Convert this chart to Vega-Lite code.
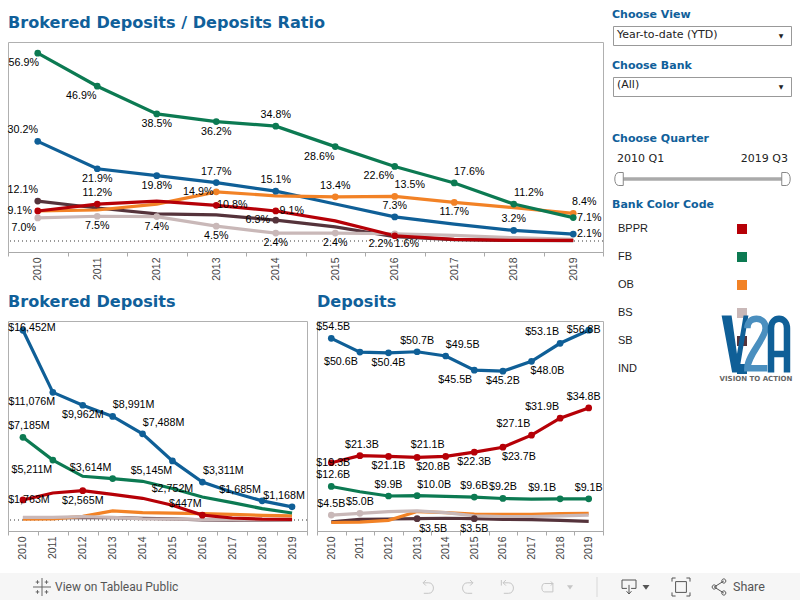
{
"$schema":"https://vega.github.io/schema/vega-lite/v6.json",
"padding":0,"background":"white","autosize":{"type":"pad"},"spacing":0,
"config":{"view":{"stroke":null},
"title":{"font":"DejaVu Sans","fontWeight":"bold","color":"#10609a","anchor":"start","frame":"group","fontSize":16.1,"offset":11},
"style":{"lab":{"font":"Liberation Sans","fontSize":10.7,"fill":"#333","baseline":"middle","align":"center"}},
"axis":{"title":null}},
"datasets":{
"ratio":[
{"bank":"IND","year":"2010","value":30.2,"label":"30.2%"},{"bank":"IND","year":"2011","value":21.9,"label":"21.9%"},{"bank":"IND","year":"2012","value":19.8,"label":"19.8%"},{"bank":"IND","year":"2013","value":17.7,"label":"17.7%"},{"bank":"IND","year":"2014","value":15.1,"label":"15.1%"},{"bank":"IND","year":"2015","value":11.2},{"bank":"IND","year":"2016","value":7.3,"label":"7.3%"},{"bank":"IND","year":"2017","value":5.1},{"bank":"IND","year":"2018","value":3.2,"label":"3.2%"},{"bank":"IND","year":"2019","value":2.1,"label":"2.1%"},
{"bank":"SB","year":"2010","value":12.1,"label":"12.1%"},{"bank":"SB","year":"2011","value":10.0},{"bank":"SB","year":"2012","value":8.2},{"bank":"SB","year":"2013","value":7.9},{"bank":"SB","year":"2014","value":6.3,"label":"6.3%"},{"bank":"SB","year":"2015","value":4.3},{"bank":"SB","year":"2016","value":1.3},{"bank":"SB","year":"2017","value":0.4},{"bank":"SB","year":"2018","value":0.2},{"bank":"SB","year":"2019","value":0.1},
{"bank":"OB","year":"2010","value":9.1},{"bank":"OB","year":"2011","value":9.4},{"bank":"OB","year":"2012","value":11.2},{"bank":"OB","year":"2013","value":14.9,"label":"14.9%"},{"bank":"OB","year":"2014","value":13.7},{"bank":"OB","year":"2015","value":13.4,"label":"13.4%"},{"bank":"OB","year":"2016","value":13.5,"label":"13.5%"},{"bank":"OB","year":"2017","value":11.7,"label":"11.7%"},{"bank":"OB","year":"2018","value":10.1},{"bank":"OB","year":"2019","value":8.4,"label":"8.4%"},
{"bank":"BS","year":"2010","value":7.0,"label":"7.0%"},{"bank":"BS","year":"2011","value":7.5,"label":"7.5%"},{"bank":"BS","year":"2012","value":7.4,"label":"7.4%"},{"bank":"BS","year":"2013","value":4.5,"label":"4.5%"},{"bank":"BS","year":"2014","value":2.4,"label":"2.4%"},{"bank":"BS","year":"2015","value":2.4,"label":"2.4%"},{"bank":"BS","year":"2016","value":2.2,"label":"2.2%"},{"bank":"BS","year":"2017","value":1.7},{"bank":"BS","year":"2018","value":1.0},{"bank":"BS","year":"2019","value":0.5},
{"bank":"FB","year":"2010","value":56.9,"label":"56.9%"},{"bank":"FB","year":"2011","value":46.9,"label":"46.9%"},{"bank":"FB","year":"2012","value":38.5,"label":"38.5%"},{"bank":"FB","year":"2013","value":36.2,"label":"36.2%"},{"bank":"FB","year":"2014","value":34.8,"label":"34.8%"},{"bank":"FB","year":"2015","value":28.6,"label":"28.6%"},{"bank":"FB","year":"2016","value":22.6,"label":"22.6%"},{"bank":"FB","year":"2017","value":17.6,"label":"17.6%"},{"bank":"FB","year":"2018","value":11.2,"label":"11.2%"},{"bank":"FB","year":"2019","value":7.1,"label":"7.1%"},
{"bank":"BPPR","year":"2010","value":9.1,"label":"9.1%"},{"bank":"BPPR","year":"2011","value":11.2,"label":"11.2%"},{"bank":"BPPR","year":"2012","value":12.1},{"bank":"BPPR","year":"2013","value":10.8,"label":"10.8%"},{"bank":"BPPR","year":"2014","value":9.1,"label":"9.1%"},{"bank":"BPPR","year":"2015","value":6.1},{"bank":"BPPR","year":"2016","value":1.6,"label":"1.6%"},{"bank":"BPPR","year":"2017","value":0.5},{"bank":"BPPR","year":"2018","value":0.2},{"bank":"BPPR","year":"2019","value":0.2}
],
"brokered":[
{"bank":"IND","year":"2010","value":16452,"label":"$16,452M"},{"bank":"IND","year":"2011","value":11076,"label":"$11,076M"},{"bank":"IND","year":"2012","value":9962,"label":"$9,962M"},{"bank":"IND","year":"2013","value":8991,"label":"$8,991M"},{"bank":"IND","year":"2014","value":7488,"label":"$7,488M"},{"bank":"IND","year":"2015","value":5145,"label":"$5,145M"},{"bank":"IND","year":"2016","value":3311,"label":"$3,311M"},{"bank":"IND","year":"2017","value":2424},{"bank":"IND","year":"2018","value":1685,"label":"$1,685M"},{"bank":"IND","year":"2019","value":1168,"label":"$1,168M"},
{"bank":"SB","year":"2010","value":240},{"bank":"SB","year":"2011","value":230},{"bank":"SB","year":"2012","value":240},{"bank":"SB","year":"2013","value":230},{"bank":"SB","year":"2014","value":180},{"bank":"SB","year":"2015","value":130},{"bank":"SB","year":"2016","value":30},{"bank":"SB","year":"2017","value":20},{"bank":"SB","year":"2018","value":10},{"bank":"SB","year":"2019","value":10},
{"bank":"OB","year":"2010","value":110},{"bank":"OB","year":"2011","value":130},{"bank":"OB","year":"2012","value":345},{"bank":"OB","year":"2013","value":810},{"bank":"OB","year":"2014","value":660},{"bank":"OB","year":"2015","value":620},{"bank":"OB","year":"2016","value":580},{"bank":"OB","year":"2017","value":520},{"bank":"OB","year":"2018","value":430},{"bank":"OB","year":"2019","value":380},
{"bank":"BS","year":"2010","value":260},{"bank":"BS","year":"2011","value":260},{"bank":"BS","year":"2012","value":320},{"bank":"BS","year":"2013","value":250},{"bank":"BS","year":"2014","value":120},{"bank":"BS","year":"2015","value":110},{"bank":"BS","year":"2016","value":70},{"bank":"BS","year":"2017","value":50},{"bank":"BS","year":"2018","value":30},{"bank":"BS","year":"2019","value":20},
{"bank":"FB","year":"2010","value":7185,"label":"$7,185M"},{"bank":"FB","year":"2011","value":5211,"label":"$5,211M"},{"bank":"FB","year":"2012","value":3810},{"bank":"FB","year":"2013","value":3614,"label":"$3,614M"},{"bank":"FB","year":"2014","value":3377},{"bank":"FB","year":"2015","value":2752,"label":"$2,752M"},{"bank":"FB","year":"2016","value":2017},{"bank":"FB","year":"2017","value":1530},{"bank":"FB","year":"2018","value":1010},{"bank":"FB","year":"2019","value":630},
{"bank":"BPPR","year":"2010","value":1763,"label":"$1,763M"},{"bank":"BPPR","year":"2011","value":2364},{"bank":"BPPR","year":"2012","value":2565,"label":"$2,565M"},{"bank":"BPPR","year":"2013","value":2250},{"bank":"BPPR","year":"2014","value":1905},{"bank":"BPPR","year":"2015","value":1300},{"bank":"BPPR","year":"2016","value":447,"label":"$447M"},{"bank":"BPPR","year":"2017","value":200},{"bank":"BPPR","year":"2018","value":100},{"bank":"BPPR","year":"2019","value":80}
],
"deposits":[
{"bank":"IND","year":"2010","value":54.5,"label":"$54.5B"},{"bank":"IND","year":"2011","value":50.6,"label":"$50.6B"},{"bank":"IND","year":"2012","value":50.4,"label":"$50.4B"},{"bank":"IND","year":"2013","value":50.7,"label":"$50.7B"},{"bank":"IND","year":"2014","value":49.5,"label":"$49.5B"},{"bank":"IND","year":"2015","value":45.5,"label":"$45.5B"},{"bank":"IND","year":"2016","value":45.2,"label":"$45.2B"},{"bank":"IND","year":"2017","value":48.0,"label":"$48.0B"},{"bank":"IND","year":"2018","value":53.1,"label":"$53.1B"},{"bank":"IND","year":"2019","value":56.8,"label":"$56.8B"},
{"bank":"SB","year":"2010","value":2.6},{"bank":"SB","year":"2011","value":3.3},{"bank":"SB","year":"2012","value":3.4},{"bank":"SB","year":"2013","value":3.5,"label":"$3.5B"},{"bank":"SB","year":"2014","value":3.6},{"bank":"SB","year":"2015","value":3.5,"label":"$3.5B"},{"bank":"SB","year":"2016","value":3.3},{"bank":"SB","year":"2017","value":3.2},{"bank":"SB","year":"2018","value":3.0},{"bank":"SB","year":"2019","value":2.7},
{"bank":"OB","year":"2010","value":2.4},{"bank":"OB","year":"2011","value":2.5},{"bank":"OB","year":"2012","value":3.0},{"bank":"OB","year":"2013","value":5.5},{"bank":"OB","year":"2014","value":5.2},{"bank":"OB","year":"2015","value":4.8},{"bank":"OB","year":"2016","value":4.7},{"bank":"OB","year":"2017","value":4.7},{"bank":"OB","year":"2018","value":4.9},{"bank":"OB","year":"2019","value":5.0},
{"bank":"BS","year":"2010","value":4.5,"label":"$4.5B"},{"bank":"BS","year":"2011","value":5.0,"label":"$5.0B"},{"bank":"BS","year":"2012","value":5.5},{"bank":"BS","year":"2013","value":5.7},{"bank":"BS","year":"2014","value":5.2},{"bank":"BS","year":"2015","value":4.3},{"bank":"BS","year":"2016","value":4.1},{"bank":"BS","year":"2017","value":4.1},{"bank":"BS","year":"2018","value":4.3},{"bank":"BS","year":"2019","value":4.5},
{"bank":"FB","year":"2010","value":12.6,"label":"$12.6B"},{"bank":"FB","year":"2011","value":11.1},{"bank":"FB","year":"2012","value":9.9,"label":"$9.9B"},{"bank":"FB","year":"2013","value":10.0,"label":"$10.0B"},{"bank":"FB","year":"2014","value":9.8},{"bank":"FB","year":"2015","value":9.6,"label":"$9.6B"},{"bank":"FB","year":"2016","value":9.2,"label":"$9.2B"},{"bank":"FB","year":"2017","value":9.0},{"bank":"FB","year":"2018","value":9.1,"label":"$9.1B"},{"bank":"FB","year":"2019","value":9.1,"label":"$9.1B"},
{"bank":"BPPR","year":"2010","value":19.3,"label":"$19.3B"},{"bank":"BPPR","year":"2011","value":21.3,"label":"$21.3B"},{"bank":"BPPR","year":"2012","value":21.1,"label":"$21.1B"},{"bank":"BPPR","year":"2013","value":20.8,"label":"$20.8B"},{"bank":"BPPR","year":"2014","value":21.1,"label":"$21.1B"},{"bank":"BPPR","year":"2015","value":22.3,"label":"$22.3B"},{"bank":"BPPR","year":"2016","value":23.7,"label":"$23.7B"},{"bank":"BPPR","year":"2017","value":27.1,"label":"$27.1B"},{"bank":"BPPR","year":"2018","value":31.9,"label":"$31.9B"},{"bank":"BPPR","year":"2019","value":34.8,"label":"$34.8B"}
]},
"vconcat":[
{"hconcat":[
 {"width":2,"height":1,"data":{"values":[]},"mark":"rect"},
 {"vconcat":[
  {"width":595,"height":14,"data":{"values":[]},"mark":"rect"},
  {"width":595,"height":210,"view":{"stroke":"#b0b0b0"},
   "title":"Brokered Deposits / Deposits Ratio",
   "data":{"name":"ratio"},
   "encoding":{"x":{"field":"year","type":"nominal","scale":{"type":"band","paddingInner":0,"paddingOuter":0},
      "axis":{"labelAngle":270,"labelAlign":"right","labelBaseline":"middle","tickBand":"extent","labelFont":"Liberation Sans","labelFontSize":10.5,"labelColor":"#444","tickColor":"#aaa","domainColor":"#aaa","tickSize":4,"labelPadding":1}},
     "y":{"field":"value","type":"quantitative","axis":null,"scale":{"domain":[-3.33,60.3],"nice":false,"zero":false}}},
   "layer":[
    {"mark":{"type":"rule","stroke":"#999","strokeWidth":1,"strokeDash":[1,3]},"encoding":{"x":null,"y":{"datum":0}}},
    {"mark":{"type":"line","strokeWidth":3.2,"interpolate":"linear"},"encoding":{"color":{"field":"bank","type":"nominal","legend":null,"scale":{"domain":["BPPR","FB","OB","BS","SB","IND"],"range":["#b60007","#0c7a52","#f28226","#c9b8b8","#55333b","#0f5f97"]}}}},
    {"transform":[{"filter":"isValid(datum.label)"}],"mark":{"type":"circle","size":45,"opacity":1},"encoding":{"color":{"field":"bank","type":"nominal","legend":null}}},
    {"transform":[{"filter":"indexof(['IND2013','IND2014','IND2016','IND2018','FB2014','BPPR2011','OB2015'],datum.bank+datum.year)>=0"}],"mark":{"type":"text","style":"lab","dy":-11},"encoding":{"text":{"field":"label"}}},
    {"transform":[{"filter":"indexof(['FB2012','FB2013','IND2011','IND2012','OB2017','BS2011','BS2012','BS2013','BS2014','BS2015'],datum.bank+datum.year)>=0"}],"mark":{"type":"text","style":"lab","dy":10},"encoding":{"text":{"field":"label"}}},
    {"transform":[{"filter":"indexof(['FB2011','FB2015','FB2016'],datum.bank+datum.year)>=0"}],"mark":{"type":"text","style":"lab","dx":-16,"dy":10},"encoding":{"text":{"field":"label"}}},
    {"transform":[{"filter":"indexof(['FB2017','FB2018','OB2016'],datum.bank+datum.year)>=0"}],"mark":{"type":"text","style":"lab","dx":15,"dy":-11},"encoding":{"text":{"field":"label"}}},
    {"transform":[{"filter":"indexof(['IND2010','SB2010'],datum.bank+datum.year)>=0"}],"mark":{"type":"text","style":"lab","dx":-15,"dy":-11},"encoding":{"text":{"field":"label"}}},
    {"transform":[{"filter":"indexof(['FB2010','BS2010','BS2016'],datum.bank+datum.year)>=0"}],"mark":{"type":"text","style":"lab","dx":-14,"dy":10},"encoding":{"text":{"field":"label"}}},
    {"transform":[{"filter":"indexof(['BPPR2010','OB2013','SB2014'],datum.bank+datum.year)>=0"}],"mark":{"type":"text","style":"lab","dx":-18},"encoding":{"text":{"field":"label"}}},
    {"transform":[{"filter":"indexof(['BPPR2013','BPPR2014','FB2019','IND2019'],datum.bank+datum.year)>=0"}],"mark":{"type":"text","style":"lab","dx":16},"encoding":{"text":{"field":"label"}}},
    {"transform":[{"filter":"datum.bank+datum.year==='OB2019'"}],"mark":{"type":"text","style":"lab","dx":11,"dy":-11},"encoding":{"text":{"field":"label"}}},
    {"transform":[{"filter":"datum.bank+datum.year==='BPPR2016'"}],"mark":{"type":"text","style":"lab","dx":12,"dy":8},"encoding":{"text":{"field":"label"}}}
   ]},
  {"width":595,"height":12,"data":{"values":[]},"mark":"rect"},
  {"hconcat":[
   {"width":299,"height":210,"view":{"stroke":"#b0b0b0"},"title":"Brokered Deposits","data":{"name":"brokered"},
    "encoding":{"x":{"field":"year","type":"nominal","scale":{"type":"band","paddingInner":0,"paddingOuter":0},
      "axis":{"labelAngle":270,"labelAlign":"right","labelBaseline":"middle","tickBand":"extent","labelFont":"Liberation Sans","labelFontSize":10.5,"labelColor":"#444","tickColor":"#aaa","domainColor":"#aaa","tickSize":4,"labelPadding":1}},
     "y":{"field":"value","type":"quantitative","axis":null,"scale":{"domain":[-926,17255],"nice":false,"zero":false}}},
    "layer":[
     {"mark":{"type":"rule","stroke":"#999","strokeWidth":1,"strokeDash":[1,3]},"encoding":{"x":null,"y":{"datum":0}}},
     {"mark":{"type":"line","strokeWidth":3.2},"encoding":{"color":{"field":"bank","type":"nominal","legend":null,"scale":{"domain":["BPPR","FB","OB","BS","SB","IND"],"range":["#b60007","#0c7a52","#f28226","#c9b8b8","#55333b","#0f5f97"]}}}},
     {"transform":[{"filter":"isValid(datum.label) && datum.label!=='$2,752M'"}],"mark":{"type":"circle","size":45,"opacity":1},"encoding":{"color":{"field":"bank","type":"nominal","legend":null}}},
     {"transform":[{"filter":"indexof(['$8,991M','$7,488M','$3,311M'],datum.label)>=0"}],"mark":{"type":"text","style":"lab","dx":21,"dy":-11},"encoding":{"text":{"field":"label"}}},
     {"transform":[{"filter":"indexof(['$11,076M','$5,211M','$5,145M'],datum.label)>=0"}],"mark":{"type":"text","style":"lab","dx":-21,"dy":10},"encoding":{"text":{"field":"label"}}},
     {"transform":[{"filter":"indexof(['$3,614M','$1,685M'],datum.label)>=0"}],"mark":{"type":"text","style":"lab","dx":-22,"dy":-11},"encoding":{"text":{"field":"label"}}},
     {"transform":[{"filter":"indexof(['$9,962M','$2,565M'],datum.label)>=0"}],"mark":{"type":"text","style":"lab","dy":10},"encoding":{"text":{"field":"label"}}},
     {"transform":[{"filter":"datum.label==='$447M'"}],"mark":{"type":"text","style":"lab","dx":-17,"dy":-11},"encoding":{"text":{"field":"label"}}},
     {"transform":[{"filter":"datum.label==='$16,452M'"}],"mark":{"type":"text","style":"lab","dx":9,"dy":-2},"encoding":{"text":{"field":"label"}}},
     {"transform":[{"filter":"datum.label==='$7,185M'"}],"mark":{"type":"text","style":"lab","dx":6,"dy":-11},"encoding":{"text":{"field":"label"}}},
     {"transform":[{"filter":"datum.label==='$1,763M'"}],"mark":{"type":"text","style":"lab","dx":6},"encoding":{"text":{"field":"label"}}},
     {"transform":[{"filter":"datum.label==='$2,752M'"}],"mark":{"type":"text","style":"lab"},"encoding":{"text":{"field":"label"}}},
     {"transform":[{"filter":"datum.label==='$1,168M'"}],"mark":{"type":"text","style":"lab","dx":-8,"dy":-11},"encoding":{"text":{"field":"label"}}}
    ]},
   {"width":10,"height":1,"data":{"values":[]},"mark":"rect"},
   {"width":286,"height":210,"view":{"stroke":"#b0b0b0"},"title":"Deposits","data":{"name":"deposits"},
    "encoding":{"x":{"field":"year","type":"nominal","scale":{"type":"band","paddingInner":0,"paddingOuter":0},
      "axis":{"labelAngle":270,"labelAlign":"right","labelBaseline":"middle","tickBand":"extent","labelFont":"Liberation Sans","labelFontSize":10.5,"labelColor":"#444","tickColor":"#aaa","domainColor":"#aaa","tickSize":4,"labelPadding":1}},
     "y":{"field":"value","type":"quantitative","axis":null,"scale":{"domain":[0,59.4],"nice":false,"zero":false}}},
    "layer":[
     {"mark":{"type":"line","strokeWidth":3.2},"encoding":{"color":{"field":"bank","type":"nominal","legend":null,"scale":{"domain":["BPPR","FB","OB","BS","SB","IND"],"range":["#b60007","#0c7a52","#f28226","#c9b8b8","#55333b","#0f5f97"]}}}},
     {"transform":[{"filter":"isValid(datum.label)"}],"mark":{"type":"circle","size":45,"opacity":1},"encoding":{"color":{"field":"bank","type":"nominal","legend":null}}},
     {"transform":[{"filter":"indexof(['FB2012','FB2015','FB2016','FB2019','IND2013','BS2011','BS2010'],datum.bank+datum.year)>=0"}],"mark":{"type":"text","style":"lab","dy":-11},"encoding":{"text":{"field":"label"}}},
     {"transform":[{"filter":"indexof(['IND2012','IND2016','BPPR2012','BPPR2015','SB2015'],datum.bank+datum.year)>=0"}],"mark":{"type":"text","style":"lab","dy":10},"encoding":{"text":{"field":"label"}}},
     {"transform":[{"filter":"indexof(['IND2010','FB2010','BPPR2011'],datum.bank+datum.year)>=0"}],"mark":{"type":"text","style":"lab","dx":2,"dy":-11},"encoding":{"text":{"field":"label"}}},
     {"transform":[{"filter":"indexof(['IND2011','IND2015'],datum.bank+datum.year)>=0"}],"mark":{"type":"text","style":"lab","dx":-19,"dy":10},"encoding":{"text":{"field":"label"}}},
     {"transform":[{"filter":"indexof(['IND2014','FB2013'],datum.bank+datum.year)>=0"}],"mark":{"type":"text","style":"lab","dx":17,"dy":-11},"encoding":{"text":{"field":"label"}}},
     {"transform":[{"filter":"indexof(['IND2017','BPPR2016','BPPR2013','SB2013'],datum.bank+datum.year)>=0"}],"mark":{"type":"text","style":"lab","dx":16,"dy":10},"encoding":{"text":{"field":"label"}}},
     {"transform":[{"filter":"indexof(['IND2018','BPPR2017','BPPR2018','BPPR2014','FB2018'],datum.bank+datum.year)>=0"}],"mark":{"type":"text","style":"lab","dx":-18,"dy":-11},"encoding":{"text":{"field":"label"}}},
     {"transform":[{"filter":"datum.bank+datum.year==='BPPR2019'"}],"mark":{"type":"text","style":"lab","dx":-5,"dy":-11},"encoding":{"text":{"field":"label"}}},
     {"transform":[{"filter":"datum.bank+datum.year==='IND2019'"}],"mark":{"type":"text","style":"lab","dx":-5},"encoding":{"text":{"field":"label"}}},
     {"transform":[{"filter":"datum.bank+datum.year==='BPPR2010'"}],"mark":{"type":"text","style":"lab","dx":2},"encoding":{"text":{"field":"label"}}}
    ]}
  ],"spacing":0,"bounds":"flush"},
  {"width":595,"height":13,"data":{"values":[]},"mark":"rect"}
 ],"spacing":0},
 {"width":7,"height":1,"data":{"values":[]},"mark":"rect"},
 {"vconcat":[
  {"width":178,"height":26,"data":{"values":[]},"mark":"rect"},
  {"width":178,"height":19,"view":{"stroke":"#999"},"title":{"text":"Choose View","fontSize":11,"offset":6,"dx":-1},
   "data":{"values":[{"t":"Year-to-date (YTD)"}]},
   "layer":[
    {"mark":{"type":"text","align":"left","baseline":"middle","font":"DejaVu Sans","fontSize":11,"fill":"#222","x":4,"y":9},"encoding":{"text":{"field":"t"}}},
    {"mark":{"type":"text","text":"▼","align":"center","baseline":"middle","font":"DejaVu Sans","fontSize":6,"fill":"#222","x":168,"y":10},"encoding":{}}
   ]},
  {"width":178,"height":32,"data":{"values":[]},"mark":"rect"},
  {"width":178,"height":19,"view":{"stroke":"#999"},"title":{"text":"Choose Bank","fontSize":11,"offset":6,"dx":-1},
   "data":{"values":[{"t":"(All)"}]},
   "layer":[
    {"mark":{"type":"text","align":"left","baseline":"middle","font":"DejaVu Sans","fontSize":11,"fill":"#222","x":4,"y":8},"encoding":{"text":{"field":"t"}}},
    {"mark":{"type":"text","text":"▼","align":"center","baseline":"middle","font":"DejaVu Sans","fontSize":6,"fill":"#222","x":168,"y":10},"encoding":{}}
   ]},
  {"width":178,"height":55,"data":{"values":[]},"mark":"rect"},
  {"width":178,"height":36,"title":{"text":"Choose Quarter","fontSize":11,"offset":7,"dx":-1},
   "layer":[
    {"data":{"values":[{"from":2010,"to":2019.75}]},"mark":{"type":"rule","stroke":"#aaa","strokeWidth":3.5},"encoding":{"x":{"field":"from","type":"quantitative","axis":null,"scale":{"domain":[2010,2019.75],"range":[7,172],"zero":false,"nice":false}},"x2":{"field":"to"},"y":{"value":28}}},
    {"data":{"values":[{"q":2010,"label":"2010 Q1"}]},"mark":{"type":"text","align":"left","dx":-3,"baseline":"middle","font":"DejaVu Sans","fontSize":11,"fill":"#222","y":8},"encoding":{"x":{"field":"q","type":"quantitative"},"text":{"field":"label"}}},
    {"data":{"values":[{"q":2019.75,"label":"2019 Q3"}]},"mark":{"type":"text","align":"right","dx":3,"baseline":"middle","font":"DejaVu Sans","fontSize":11,"fill":"#222","y":8},"encoding":{"x":{"field":"q","type":"quantitative"},"text":{"field":"label"}}},
    {"data":{"values":[{"q":2010}]},"mark":{"type":"point","shape":"M0.5,-1 L-0.2,-1 C-1,-1 -1,1 -0.2,1 L0.5,1 Z","size":169,"filled":true,"fill":"white","stroke":"#888","strokeWidth":1,"opacity":1,"y":28},"encoding":{"x":{"field":"q","type":"quantitative"}}},
    {"data":{"values":[{"q":2019.75}]},"mark":{"type":"point","shape":"M-0.5,-1 L0.2,-1 C1,-1 1,1 0.2,1 L-0.5,1 Z","size":169,"filled":true,"fill":"white","stroke":"#888","strokeWidth":1,"opacity":1,"y":28},"encoding":{"x":{"field":"q","type":"quantitative"}}}
   ]},
  {"width":178,"height":28,"data":{"values":[]},"mark":"rect"},
  {"width":178,"height":168,"title":{"text":"Bank Color Code","fontSize":11,"offset":5,"dx":-1},
   "data":{"values":[{"bank":"BPPR"},{"bank":"FB"},{"bank":"OB"},{"bank":"BS"},{"bank":"SB"},{"bank":"IND"}]},
   "encoding":{"y":{"field":"bank","type":"nominal","sort":null,"axis":null,"scale":{"type":"band","paddingInner":0,"paddingOuter":0}}},
   "layer":[
    {"mark":{"type":"text","style":"lab","align":"left","fontSize":11,"fill":"#222","x":5},"encoding":{"text":{"field":"bank"}}},
    {"mark":{"type":"point","shape":"square","filled":true,"opacity":1,"size":100,"x":129},"encoding":{"color":{"field":"bank","type":"nominal","legend":null,"scale":{"domain":["BPPR","FB","OB","BS","SB","IND"],"range":["#b60007","#0c7a52","#f28226","#c9b8b8","#55333b","#0f5f97"]}}}},
    {"data":{"values":[{"logo":"V2A"}]},"mark":{"type":"point","shape":"M-0.47,-1 L-0.12,-1 L0.07,0.35 L0.3,-1 L0.47,-1 L0.14,1 L-0.1,1 Z","size":3249,"filled":true,"fill":"#0f5f97","stroke":null,"opacity":1,"x":122,"y":129},"encoding":{"y":null}},
    {"data":{"values":[{"logo":"V2A"}]},"mark":{"type":"point","shape":"M-0.32,-0.55 C-0.32,-1.0 0.32,-1.0 0.32,-0.55 C0.32,-0.2 -0.32,0.4 -0.32,0.85 L0.38,0.85","size":3249,"filled":false,"stroke":"#4a8fbf","strokeWidth":6.5,"opacity":1,"x":143.5,"y":129},"encoding":{"y":null}},
    {"data":{"values":[{"logo":"V2A"}]},"mark":{"type":"point","shape":"M-0.28,1 L-0.28,-0.55 C-0.28,-1.0 0.28,-1.0 0.28,-0.55 L0.28,1 M-0.28,0.35 L0.28,0.35","size":3249,"filled":false,"stroke":"#0f5f97","strokeWidth":6.5,"opacity":1,"x":166,"y":129},"encoding":{"y":null}},
    {"data":{"values":[{"logo":"V2A"}]},"mark":{"type":"rule","stroke":"#bbb","strokeWidth":1,"x":107,"x2":179,"y":159},"encoding":{"y":null}},
    {"data":{"values":[{"logo":"VISION TO ACTION"}]},"mark":{"type":"text","align":"center","baseline":"middle","font":"DejaVu Sans","fontWeight":"bold","fontSize":7,"fill":"#666","x":143,"y":164},"encoding":{"y":null,"text":{"field":"logo"}}}
   ]}
 ],"spacing":0,"bounds":"flush"}
],"spacing":0},
{"width":800,"height":27,"view":{"fill":"#f6f6f6","stroke":null},
 "data":{"values":[{"item":"toolbar"}]},
 "layer":[
  {"mark":{"type":"text","text":"View on Tableau Public","align":"left","baseline":"middle","font":"Roboto","fontSize":12,"fill":"#555","x":55,"y":14},"encoding":{}},
  {"mark":{"type":"text","text":"Share","align":"left","baseline":"middle","font":"Roboto","fontSize":12.5,"fill":"#555","x":733,"y":14},"encoding":{}},
  {"mark":{"type":"point","shape":"M0,-1 L0,1 M-1,0 L1,0 M-0.5,-0.75 L-0.5,-0.35 M-0.7,-0.55 L-0.3,-0.55 M0.5,-0.75 L0.5,-0.35 M0.3,-0.55 L0.7,-0.55 M-0.5,0.35 L-0.5,0.75 M-0.7,0.55 L-0.3,0.55 M0.5,0.35 L0.5,0.75 M0.3,0.55 L0.7,0.55","size":324,"filled":false,"stroke":"#666","strokeWidth":1,"opacity":1,"x":42,"y":14},"encoding":{}},
  {"mark":{"type":"point","shape":"M-0.7,-0.6 L0.1,-0.6 C1,-0.6 1,0.9 0.1,0.9 L-0.6,0.9 M-0.7,-0.6 L-0.3,-1 M-0.7,-0.6 L-0.3,-0.2","size":196,"filled":false,"stroke":"#c6c6c6","strokeWidth":1,"opacity":1,"x":428,"y":14},"encoding":{}},
  {"mark":{"type":"point","shape":"M0.7,-0.6 L-0.1,-0.6 C-1,-0.6 -1,0.9 -0.1,0.9 L0.6,0.9 M0.7,-0.6 L0.3,-1 M0.7,-0.6 L0.3,-0.2","size":196,"filled":false,"stroke":"#c6c6c6","strokeWidth":1,"opacity":1,"x":468,"y":14},"encoding":{}},
  {"mark":{"type":"point","shape":"M-0.7,-0.6 L0.1,-0.6 C1,-0.6 1,0.9 0.1,0.9 L-0.6,0.9 M-0.7,-0.6 L-0.3,-1 M-0.7,-0.6 L-0.3,-0.2 M-0.95,-1 L-0.95,-0.2","size":196,"filled":false,"stroke":"#c6c6c6","strokeWidth":1,"opacity":1,"x":508,"y":14},"encoding":{}},
  {"mark":{"type":"point","shape":"M0.7,-0.5 L-0.5,-0.5 C-1,-0.5 -1,0.7 -0.5,0.7 L0.7,0.7 L0.7,-0.5 M0.7,-0.5 L0.4,-0.8 M0.7,-0.5 L0.4,-0.2","size":196,"filled":false,"stroke":"#c6c6c6","strokeWidth":1,"opacity":1,"x":548,"y":14},"encoding":{}},
  {"mark":{"type":"point","shape":"M-1,-0.6 L1,-0.6 L0,0.8 Z","size":36,"filled":true,"fill":"#c6c6c6","stroke":null,"opacity":1,"x":570,"y":14},"encoding":{}},
  {"mark":{"type":"point","shape":"M0,-1 L0,1","size":400,"filled":false,"stroke":"#d8d8d8","strokeWidth":1,"opacity":1,"x":597,"y":14},"encoding":{}},
  {"mark":{"type":"point","shape":"M-1,0.2 L-1,-1 L1,-1 L1,0.2 L0.3,0.2 M-0.3,0.2 L-1,0.2 M0,-0.3 L0,1 M-0.35,0.6 L0,1 L0.35,0.6","size":196,"filled":false,"stroke":"#555","strokeWidth":1,"opacity":1,"x":629,"y":14},"encoding":{}},
  {"mark":{"type":"point","shape":"M-1,-0.6 L1,-0.6 L0,0.8 Z","size":49,"filled":true,"fill":"#555","stroke":null,"opacity":1,"x":646,"y":14},"encoding":{}},
  {"mark":{"type":"point","shape":"M-0.6,-1 L-1,-1 L-1,-0.6 M0.6,-1 L1,-1 L1,-0.6 M-1,0.6 L-1,1 L-0.6,1 M1,0.6 L1,1 L0.6,1 M-0.6,-0.6 L0.6,-0.6 L0.6,0.6 L-0.6,0.6 Z","size":324,"filled":false,"stroke":"#555","strokeWidth":1,"opacity":1,"x":681,"y":14},"encoding":{}},
  {"mark":{"type":"point","shape":"M0.6,-0.75 L-0.6,0 L0.6,0.75 M0.85,-0.75 C0.85,-1.1 0.35,-1.1 0.35,-0.75 C0.35,-0.4 0.85,-0.4 0.85,-0.75 M-0.35,0 C-0.35,-0.35 -0.85,-0.35 -0.85,0 C-0.85,0.35 -0.35,0.35 -0.35,0 M0.85,0.75 C0.85,0.4 0.35,0.4 0.35,0.75 C0.35,1.1 0.85,1.1 0.85,0.75","size":256,"filled":false,"stroke":"#555","strokeWidth":1,"opacity":1,"x":719,"y":14},"encoding":{}}
 ]}
],"resolve":{"scale":{"color":"shared"}}
}
